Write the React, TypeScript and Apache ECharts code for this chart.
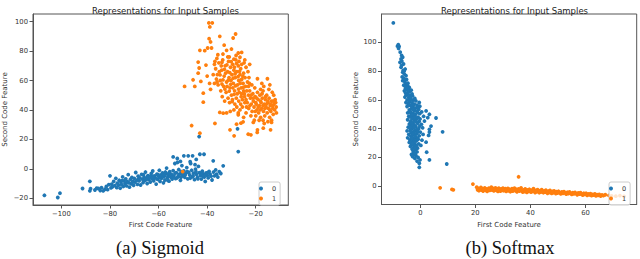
import React, { useEffect, useRef } from "react";
import * as echarts from "echarts";

const TITLE = "Representations for Input Samples";
const X_NAME = "First Code Feature";
const Y_NAME = "Second Code Feature";
const CAPTIONS = ["(a) Sigmoid", "(b) Softmax"];
const CLASS_NAMES = ["0", "1"];

const sigXTicks = [-100, -80, -60, -40, -20];
const sigYTicks = [-20, 0, 20, 40, 60, 80, 100];
const softXTicks = [0, 20, 40, 60];
const softYTicks = [0, 20, 40, 60, 80, 100];

// Sigmoid, class 0
const sigClass0: number[][] = [
  [-107,-18],[-101.5,-19.5],[-100.6,-16.6],[-91.3,-13.4],[-88.3,-8.5],[-88.3,-15],[-88,-13.5],
  [-86.2,-14.4],[-85.5,-13.2],[-84.8,-13.4],[-84,-14.8],[-83.5,-12.8],[-82.8,-15],[-82.1,-13.9],[-81.5,-12],[-81,-14.2],
  [-80.5,-10.8],[-80,-4.8],[-79.6,-13],[-79.3,-10.5],[-79,-12.2],[-78.5,-8.6],[-78,-11.5],[-77.6,-6.5],[-77.2,-12.8],[-77,-9.8],
  [-76.5,-11],[-76.2,-7.8],[-75.8,-13.2],[-75.5,-9],[-75.2,-10.8],[-74.8,-5.5],[-74.5,-12],[-74.2,-8.2],[-73.8,-10],[-73.5,-6.8],
  [-73.2,-11.6],[-72.8,-8.8],[-72.5,-4],[-72.2,-9.5],[-72,-12.5],[-71.6,-7.2],[-71.3,-10.2],[-71,-5.8],[-70.6,-8.5],[-70.3,-11.2],
  [-70,-6.5],[-69.7,-9],[-69.4,-2.5],[-69,-7.8],[-68.7,-10.6],[-68.4,-5],[-68,-8.2],[-67.7,-6.2],[-67.4,-11],[-67,-3.8],
  [-66.7,-7],[-66.4,-9.4],[-66,-5.6],[-65.7,-8],[-65.4,-2.2],[-65,-6.6],[-64.7,-10],[-64.4,-4.6],[-64,-7.4],[-63.7,-5.8],
  [-63.4,-9],[-63,-3.2],[-62.7,-6.8],[-62.4,-1.5],[-62,-8.2],[-61.7,-4.8],[-61.4,-6],[-61,-10.4],[-60.7,-3.6],[-60.4,-7.2],
  [-60,-5.2],[-59.7,-1],[-59.4,-8.6],[-59,-4.2],[-58.7,-6.4],[-58.4,-2.8],[-58,-9.5],[-57.7,-5],[-57.4,-7.6],[-57,-3.4],
  [-56.7,0.5],[-56.4,-6],[-56,-4.4],[-55.7,-8.4],[-55.4,-2],[-55,-5.6],[-54.7,-3.8],[-54.4,-7],[-54,8.1],[-54,-1.2],
  [-53.7,-4.8],[-53.3,3.6],[-53,-6.6],[-52.7,-2.6],[-52.3,7],[-52.2,4.3],[-52,-5.2],[-51.7,-0.5],[-51.4,-3.6],[-51,-7.8],
  [-50.7,-2],[-50.4,2.2],[-50,-4.6],[-49.6,8.8],[-49.6,-1.4],[-49.2,-5.8],[-48.8,-3],[-48.4,0.8],[-48,-6.8],[-47.8,8.8],
  [-47.6,-2.4],[-47.2,-4.2],[-46.8,3.6],[-46.4,-1],[-46,8.8],[-46,-5.4],[-45.6,-3],[-45.2,-7.4],[-44.8,-0.2],[-44.4,-3.8],
  [-44,-5.8],[-43.6,1.6],[-43.2,-2.6],[-43,9.9],[-42.8,-4.6],[-42.4,-7],[-42,-1.6],[-41.6,-3.4],[-41.3,9.9],[-41.2,-5.6],
  [-40.8,-8.6],[-40.4,-2.8],[-40,-4.4],[-39.6,-6.2],[-39.2,-1.8],[-38.8,-3.6],[-38.4,-5],[-38,-7.6],[-37.5,5.4],[-37.4,-2.2],
  [-37,-4.8],[-36.5,-0.8],[-36.1,-3.7],[-35.6,-5.6],[-35,-1.9],[-34.4,-3.2],[-33.4,2],
  [-66.2,-4],[-64.8,-6],[-63.2,-4.8],[-61.8,-6.6],[-60.2,-4],[-59.2,-6.2],[-58.2,-5.2],[-57.2,-2.2],[-56.2,-7.8],[-55.2,-4],
  [-54.2,-5.6],[-53.2,-3],[-52.4,-6.2],[-51.6,-4.2],[-50.8,-5.8],[-50.2,-3.2],[-49,-4],[-48.2,-2],[-47,-6.4],[-45.8,-4.8],
  [-44.6,-2],[-43.8,-6.8],[-42.6,-3.2],[-41.8,-5],[-40.6,-3.8],[-39.8,-2.6],[-55.8,-3],[-57.8,-4],[-62.2,-5.4],[-65.2,-7.4],
  [-68.2,-6.8],[-70.8,-9.2],[-73,-9],[-75,-8],[-47,4.8],[-45,2.8],[-51,5],[-44.5,6.4],
  [-43.3,21.9],[-27.5,27.2],[-27.2,11.7],
];

// Sigmoid, class 1
const sigClass1: number[][] = [
  [-39.3,99.1],[-37.9,99.1],[-38.9,96.4],[-34.8,90],[-29.3,88.9],[-28.3,91.6],[-39.2,88.4],[-38.6,86.2],[-38.2,82.1],[-39.8,82.1],
  [-43,80.5],[-41,80.3],[-32,80.5],[-30,81.4],[-25.8,79.1],[-27.2,78.7],[-43.7,72.5],[-43.3,68.5],[-43.7,65],[-45.8,60.5],
  [-42.6,59.4],[-45.1,56],[-49.3,56],[-41.6,51.4],[-41.6,45.3],[-19.3,61.2],[-15.2,61.2],[-14.2,57.1],[-37,71],[-40.5,70.5],
  [-36,75],[-33,84],[-31.5,76],[-29,74.5],[-26.5,75.8],[-24.5,74],[-22.5,71],[-40,63],[-39,58],[-38.6,54],
  [-36.5,68],[-35.8,64],[-35.2,72],[-34.6,60],[-34,67],[-33.6,74],[-33.2,56],[-33,63],[-32.6,70],[-32.2,52],
  [-32,59],[-31.6,66],[-31.2,73],[-31,62],[-30.6,55],[-30.4,69],[-30,50],[-29.8,64],[-29.5,71],[-29.2,58],
  [-29,67],[-28.7,53],[-28.4,62],[-28.2,74],[-28,48],[-27.8,66],[-27.5,57],[-27.2,70],[-27,60],[-26.8,52],
  [-26.5,64],[-26.2,68],[-26,55],[-25.7,61],[-25.5,47],[-25.2,58],[-25,65],[-24.7,51],[-24.4,62],[-24.2,56],
  [-24,69],[-23.7,53],[-23.4,59],[-35.5,57],[-34.4,53],[-33.8,49],[-36.2,61],[-37,58],[-37.5,64],[-32.8,46],
  [-31.4,48],[-30.8,45],[-29.6,47],[-28.6,44],[-30.2,60],[-31.8,56],[-29.4,55],[-27.6,51],[-26.4,58],[-25.8,71],
  [-28.8,69],[-32.4,65],[-34.2,70],[-35,66],[-36.8,73],[-30.9,76],[-28.1,77],[-33.5,78],[-35.6,77.5],[-26.9,73],
  [-24.8,72],[-23.2,66],[-22.8,62],[-22.6,58],[-23,50],
  [-33.9,72.4],[-31.9,70.6],[-30.1,72.8],[-27.9,71.6],[-32.9,67.6],[-30.7,65.4],[-28.5,64.6],[-26.7,66.2],[-34.7,63.8],[-33.5,60.4],
  [-31.3,60.2],[-29.3,61.6],[-27.3,62.6],[-25.3,63],[-35.9,59],[-33.9,57.6],[-30.3,57.4],[-28.3,56.4],[-26.1,60.4],[-32.7,54.2],
  [-30.9,52.8],[-28.9,50.6],[-27.1,54.2],[-25.1,55.4],[-29.7,45.6],
  [-23.5,45],[-22.9,41],[-22.5,53],[-22.2,48],[-21.8,44],[-21.5,39],[-21.2,51],[-21,46],[-20.7,42],[-20.4,55],
  [-20.2,49],[-20,36],[-19.8,44],[-19.5,40],[-19.3,52],[-19,47],[-18.8,38],[-18.5,43],[-18.3,50],[-18,35],
  [-17.8,45],[-17.6,41],[-17.3,48],[-17,53],[-16.8,39],[-16.5,44],[-16.3,36],[-16,47],[-15.8,42],[-15.5,50],
  [-15.3,38],[-15,45],[-14.8,41],[-14.5,48],[-14.3,35],[-14,43],[-13.8,39],[-13.5,46],[-13.2,52],[-13,41],
  [-12.8,37],[-12.5,44],[-12.2,40],[-12,47],[-11.6,42],[-11.5,38],[-22,36],[-20.6,33],[-18.6,33],[-17,33],
  [-15,32],[-13.5,33],[-16.7,56],[-17.5,58],[-18,54],[-14.6,54],[-12.6,50],[-11.8,45],[-21.6,57],[-23.8,42],
  [-24.5,45],[-25.5,42],[-26.5,40],[-27.2,38],[-24,38],[-25,35],[-26.2,44],[-27.8,42],[-29,40],[-30.5,39],
  [-32,38],[-34.8,38.3],[-33.4,37.8],[-27.2,36.7],
  [-27,46],[-26,49],[-25,53],[-24,47],[-23,56],[-22,50],[-21,48],[-20,45],[-19,42],[-18,46],
  [-17,43],[-16,49],[-15,46],[-14,44],[-13,43],[-12.8,46],[-14.2,40],[-16.2,41],[-18.2,40],[-20.2,39],
  [-22.4,43],[-24.6,49],[-25.8,51],[-19.6,48],[-17.4,51],[-15.6,44],
  [-46.4,29.4],[-43,24.2],[-36.8,30.8],[-30.6,26.5],[-28.9,22.4],[-27.9,30.3],[-26.1,31],[-25.2,31.9],[-23.1,23.5],[-22,23.1],
  [-19.3,26.5],[-19.4,24.7],[-16.9,27.6],[-16.5,30.8],[-13.9,26.5],[-13.5,31.5],[-21,31.5],[-50.1,-1.9],
];

// Softmax, class 0
const softClass0: number[][] = [
  [-9.8,113.6],[-8.3,97.4],[-8,98.4],[-7.7,97.2],[-7.9,95.8],[-7.3,93.2],[-6.8,91],[-6.4,89.7],[-7,88.5],[-7.4,86.2],
  [-6.1,85],[-6.8,84],[-7,82.7],[-5.5,81.5],[-6.2,80.6],[-6.4,79.2],[-5.8,78],[-5.2,76.9],[-6.6,76],[-6,75],
  [-5,74.2],[-6.4,73.4],[-5.6,72.4],[-5.2,71],[-6,70.2],[-4.6,70],[-4,68.7],[-5.4,68],[-4.8,67.2],[-5.8,66.3],
  [-3.8,66],[-4.4,65.2],[-4.6,64],[-5.2,63.4],[-3.6,63.2],[-2.8,62.8],[-4.2,62],[-3.4,60.5],[-4.8,60],[-2.6,59.8],
  [-1.6,59.3],[-3.8,58.8],[-0.4,58.2],[-3,58],[-4.4,57.4],[-2.2,57],[-1.2,56.4],[-3.6,56],[-4.8,55.4],[-2.6,55],
  [-1.8,54.2],[-3.2,53.8],[-0.6,53.4],[-4,53],[-2.2,52.4],[2.1,52.3],[-1.2,52],[-3.6,51.4],[-4.6,51],[-2.8,50.6],
  [-0.2,50.4],[3.3,50],[-1.8,49.8],[-3.4,49.2],[-4.2,48.6],[-2.4,48.2],[-0.8,48],[2.7,47.6],[5.7,47.4],[-3,47],
  [-1.4,46.6],[-4.6,46.2],[-2,45.8],[1.5,45.3],[-0.4,45],[-3.6,44.6],[-2.6,44],[-1,43.6],[-4,43.2],[0.4,43],
  [-2.2,42.4],[-3.2,42],[3.9,41.8],[-1.6,41.4],[-4.4,41],[0.85,40.6],[-2.8,40.2],[-0.6,40],[3.3,39.5],[-3.6,39.2],
  [-1.8,38.8],[-4.8,38.4],[8.1,37.8],[-2.4,38],[0,37.6],[3.3,37.6],[-3.2,37],[-1.2,36.6],[-4.2,36],[-2,35.6],
  [3,35.3],[-0.4,35],[-3.4,34.6],[-1.6,34],[-4.6,33.6],[-2.6,33.2],[-0.8,32.6],[-3.8,32.2],[-1.4,31.6],[-2.8,31],
  [2.1,30.6],[-4,30.4],[-2,30],[-0.6,29.4],[-3.2,29],[-1.6,28.4],[0.2,28.3],[-3.6,27.6],[-2.4,27],[-1,26.4],
  [-3,25.8],[-1.8,25.2],[-2.6,24.4],[-1.2,23.8],[2.3,23.6],[-2.2,22.4],[-3.2,22],[-1.6,21.3],[-2.8,20.6],[-0.8,20],
  [-2,19.4],[-0.13,18.2],[3.3,18.2],[-1.2,17.4],[-0.37,15.9],[9.6,15.4],[-0.37,13.1],
  [-3.4,45.4],[-2.2,46.4],[-1.2,44.2],[-2.8,42.8],[-3.8,40.6],[-1.2,39.4],[-2.2,36.8],[-3,35.2],[-1,33.4],[-2.2,32],
  [-3.4,30.8],[-2.4,28.6],[-1.4,27.6],[-3.8,48.2],[-2,50],[-1,51.2],[-3,54.6],[-4,56.6],[-2,61],[-3,64.2],
  [-4,66.8],[-5,69],[-1.4,47.4],[-0.2,41.8],[-2.6,53.2],[-3.6,61.4],[-5.4,65],[1,36],[0.6,32],[1.2,48.6],
  [-0.2,55.6],[-5.2,58.2],[-5.6,62],
  [-3.9,51.8],[-3.1,49.6],[-2.1,47.8],[-1.7,45.2],[-3.1,43.8],[-2.1,41],[-3.5,38.2],[-2.7,36.4],[-1.9,34.6],[-3.1,33],
  [-2.1,30.8],[-2.9,29.8],[-1.9,26.4],[-2.5,23.2],[-1.9,22.8],[-4.1,59.6],[-2.9,56.6],[-1.1,54.8],[-3.3,66.8],[-4.5,71.6],
  [-5.7,74.2],[-5.9,80],[-6.7,87],[-0.9,38.2],[-0.1,46.8],[0.5,51.6],
];

// Softmax, class 1
const softClass1: number[][] = [
  [7.2,-1.2],[11.5,-2.3],[12,-2.6],[19.1,1.4],[35.7,6.5],
  [20.5,-0.8],[20.8,-2.6],[21,-1.6],[21.3,-3.2],[21.6,-2.1],[22,-0.9],[22.2,-2.8],[22.5,-1.7],[22.8,-3.4],[23.1,-2.2],
  [23.4,-1.2],[23.7,-2.9],[24,-1.9],[24.3,-3.6],[24.6,-2.5],[24.9,-1.4],[25.2,-3],[25.5,-2],[25.8,-0.8],[26.1,-2.7],
  [26.4,-1.6],[26.7,-3.3],[27,-2.3],[27.3,-1.2],[27.6,-3],[27.9,-2],[28.2,-3.7],[28.5,-1.5],[28.8,-2.6],[29.1,-3.4],
  [29.4,-1.9],[29.7,-2.9],
  [30,-1.4],[30.3,-3.2],[30.6,-2.3],[30.9,-1.8],[31.2,-3.7],[31.5,-2.7],[31.8,-1.6],[32.1,-3.1],[32.4,-2.2],[32.7,-3.9],
  [33,-2.6],[33.3,-1.8],[33.6,-3.4],[33.9,-2.4],[34.2,-1.4],[34.5,-3.2],[34.8,-2.2],[35.1,-4],[35.4,-2.8],[35.7,-1.9],
  [36,-3.5],[36.3,-2.5],[36.6,-1.2],[36.9,-3.1],[37.2,-4.1],[37.5,-2.6],[37.8,-3.5],[38.1,-2],[38.4,-3.1],[38.7,-4.3],
  [39,-2.7],[39.3,-3.6],[39.6,-2.2],[39.9,-3.2],
  [40.2,-4.2],[40.5,-2.8],[40.8,-3.6],[41.1,-1.8],[41.4,-3.2],[41.7,-4.5],[42,-3],[42.3,-3.9],[42.6,-2.5],[42.9,-3.5],
  [43.2,-4.6],[43.5,-3.1],[43.8,-4],[44.1,-2.4],[44.4,-3.6],[44.7,-4.6],[45,-3.3],[45.3,-4.2],[45.6,-2.8],[45.9,-3.8],
  [46.2,-5],[46.5,-3.5],[46.8,-4.4],[47.1,-3],[47.4,-4],[47.7,-5.1],[48,-3.7],[48.3,-4.6],[48.6,-3.3],[48.9,-4.2],
  [49.2,-5.2],[49.5,-3.9],
  [49.8,-4.8],[50.2,-3.6],[50.6,-4.5],[51,-5.4],[51.4,-4.1],[51.8,-5],[52.2,-3.8],[52.6,-4.7],[53,-5.6],[53.4,-4.3],
  [53.8,-5.2],[54.2,-4],[54.6,-4.9],[55,-5.8],[55.4,-4.6],[55.8,-5.4],[56.2,-4.4],[56.6,-5.2],[57,-6],[57.4,-4.8],
  [57.8,-5.6],[58.2,-4.6],[58.6,-5.5],[59,-6.3],[59.4,-5],
  [59.8,-5.8],[60.2,-5],[60.6,-6.4],[61,-5.4],[61.4,-6.1],[61.8,-5.2],[62.2,-6.6],[62.6,-5.7],[63,-6.3],[63.4,-5.5],
  [63.8,-6.8],[64.2,-5.9],[64.6,-6.5],[65,-5.7],[65.5,-6.9],[66,-6.2],[66.5,-6.6],[67.2,-6],[68.5,-6.5],[69.5,-6.8],
  [71,-7],[72.5,-6.6],[74,-7.1],
  [23,-2.6],[25,-2.4],[27,-2.7],[29,-2.3],[31,-2.8],[33,-3],[35,-2.6],[37,-3.2],[39,-3.3],[41,-3.4],
  [43,-3.8],[45,-4],[47,-4.3],[26,-2],[28,-2.4],[30,-2.6],[32,-2.9],[34,-2.8],[36,-3],[38,-3.8],
  [40,-3.5],[42,-3.5],[44,-3.8],[46,-4.1],[48,-4.1],[50,-4.3],[52,-4.4],[54,-4.7],[56,-4.9],[58,-5.3],
  [60,-5.6],[62,-6],[64,-6.2],
];

const BLUE = "#1f77b4";
const ORANGE = "#ff7f0e";
const FONT = "DejaVu Sans";
const FRAME = "#555";

const fmt = (v: number) => (v < 0 ? "\u2212" + Math.abs(v) : String(v));

function xAxisOf(gridIndex: number, min: number, max: number, ticks: number[]) {
  return {
    type: "value",
    gridIndex,
    min,
    max,
    splitLine: { show: false },
    axisLine: { show: true, onZero: false, lineStyle: { color: FRAME, width: 1 } },
    axisTick: { show: true, length: 3.5, customValues: ticks, lineStyle: { color: FRAME } },
    axisLabel: { customValues: ticks, formatter: fmt, fontSize: 6.8, color: "#333", fontFamily: FONT, margin: 5 },
    name: X_NAME,
    nameLocation: "middle",
    nameGap: 15,
    nameTextStyle: { fontSize: 7, color: "#333", fontFamily: FONT },
  };
}

function yAxisOf(gridIndex: number, min: number, max: number, ticks: number[], gap: number) {
  return {
    type: "value",
    gridIndex,
    min,
    max,
    splitLine: { show: false },
    axisLine: { show: true, onZero: false, lineStyle: { color: FRAME, width: 1 } },
    axisTick: { show: true, length: 3.5, customValues: ticks, lineStyle: { color: FRAME } },
    axisLabel: { customValues: ticks, formatter: fmt, fontSize: 6.8, color: "#333", fontFamily: FONT, margin: 5 },
    name: Y_NAME,
    nameLocation: "middle",
    nameGap: gap,
    nameTextStyle: { fontSize: 7, color: "#333", fontFamily: FONT },
  };
}

function scatter(name: string, color: string, data: number[][], idx: number) {
  return {
    type: "scatter",
    name,
    xAxisIndex: idx,
    yAxisIndex: idx,
    data,
    symbol: "circle",
    symbolSize: 3.8,
    itemStyle: { color, opacity: 1 },
    emphasis: { disabled: true },
  };
}

function legendAt(left: number) {
  return {
    data: CLASS_NAMES.map((n) => ({ name: n, icon: "circle" })),
    orient: "vertical",
    left,
    top: 182,
    itemWidth: 12,
    itemHeight: 4,
    itemGap: 3,
    padding: [3, 4, 3, 0],
    backgroundColor: "rgba(255,255,255,0.8)",
    borderColor: "#ccc",
    borderWidth: 1,
    borderRadius: 2,
    textStyle: { fontSize: 6.5, color: "#333", fontFamily: FONT, padding: [0, 0, 0, 0] },
    selectedMode: false,
  };
}

export default function App() {
  const ref = useRef<HTMLDivElement>(null);
  useEffect(() => {
    if (!ref.current) return;
    const chart = echarts.init(ref.current, null, { renderer: "svg" });
    const option: any = {
      animation: false,
      backgroundColor: "#fff",
      title: [
        { text: TITLE, left: 160.5, top: 1, textAlign: "center", textStyle: { fontSize: 8.5, fontWeight: "normal", color: "#222", fontFamily: FONT } },
        { text: TITLE, left: 509.5, top: 1, textAlign: "center", textStyle: { fontSize: 8.5, fontWeight: "normal", color: "#222", fontFamily: FONT } },
      ],
      grid: [
        { left: 33, top: 14, width: 255.3, height: 191, show: true, borderColor: FRAME, borderWidth: 1, backgroundColor: "transparent", containLabel: false },
        { left: 381.5, top: 14, width: 255.2, height: 190.5, show: true, borderColor: FRAME, borderWidth: 1, backgroundColor: "transparent", containLabel: false },
      ],
      xAxis: [xAxisOf(0, -111.7, -6.6, sigXTicks), xAxisOf(1, -14.1, 78.6, softXTicks)],
      yAxis: [yAxisOf(0, -24.6, 105.2, sigYTicks, 24.5), yAxisOf(1, -12.8, 119.8, softYTicks, 21)],
      legend: [legendAt(259), legendAt(609)],
      series: [
        scatter(CLASS_NAMES[0], BLUE, sigClass0, 0),
        scatter(CLASS_NAMES[1], ORANGE, sigClass1, 0),
        scatter(CLASS_NAMES[0], BLUE, softClass0, 1),
        scatter(CLASS_NAMES[1], ORANGE, softClass1, 1),
      ],
      graphic: [
        { type: "text", x: 160, y: 248, style: { text: CAPTIONS[0], textAlign: "center", textVerticalAlign: "middle", fontSize: 18.5, fontFamily: "Liberation Serif", fill: "#111" } },
        { type: "text", x: 510, y: 248, style: { text: CAPTIONS[1], textAlign: "center", textVerticalAlign: "middle", fontSize: 18.5, fontFamily: "Liberation Serif", fill: "#111" } },
      ],
    };
    chart.setOption(option);
    return () => chart.dispose();
  }, []);
  return <div ref={ref} style={{ position: "fixed", left: 0, top: 0, width: 640, height: 259 }} />;
}
